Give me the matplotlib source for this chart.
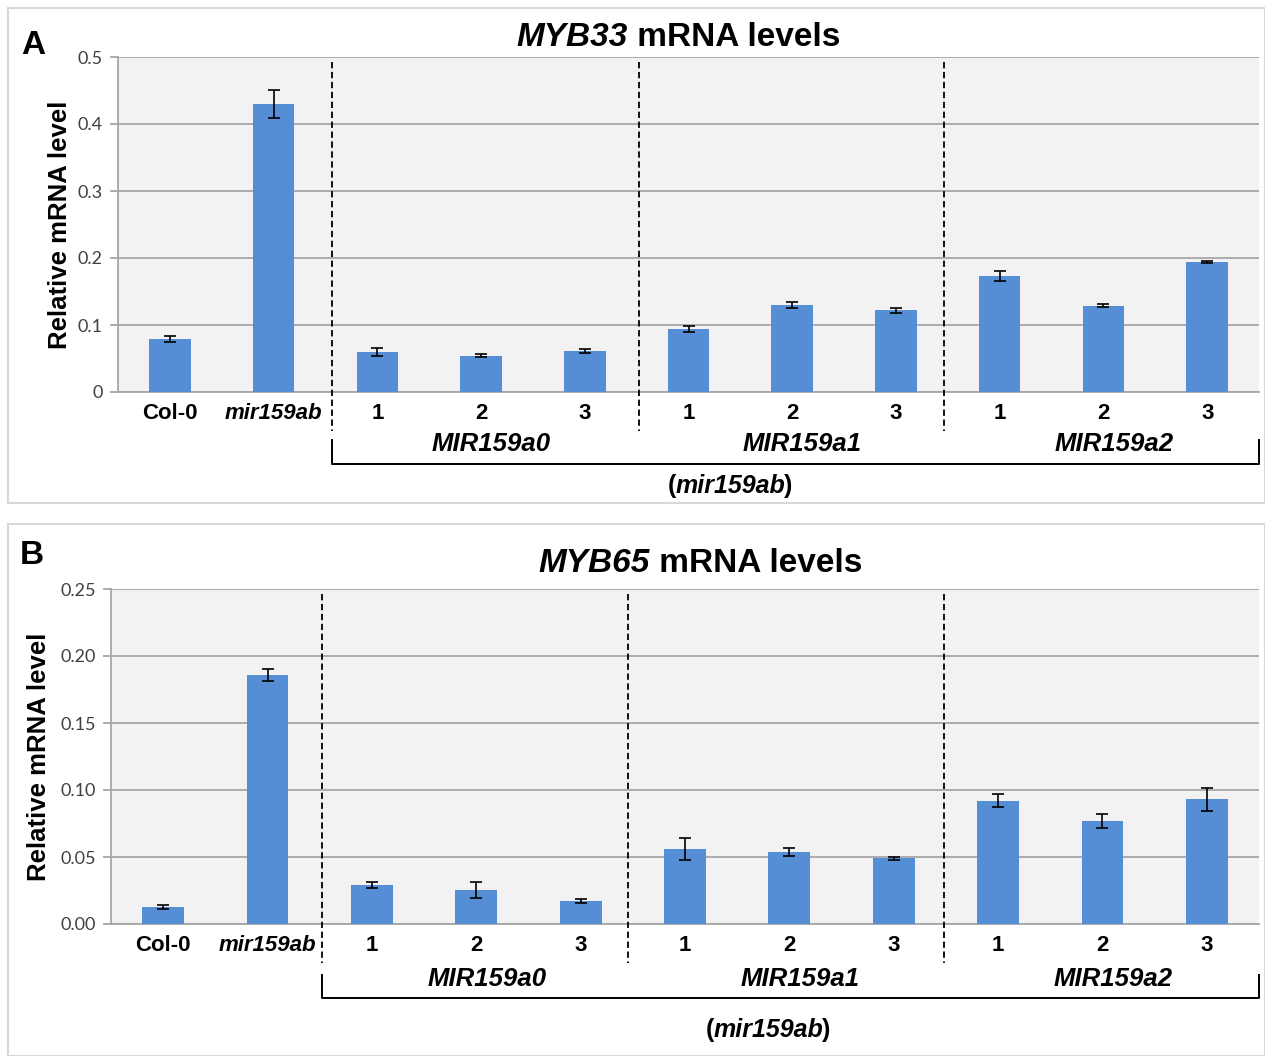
import matplotlib
matplotlib.use('Agg')
import matplotlib.pyplot as plt
from matplotlib.patches import Rectangle
from matplotlib.transforms import blended_transform_factory

W, H = 1265, 1056
SANS = ['Liberation Sans', 'DejaVu Sans']
NUM = ['Lato', 'DejaVu Sans']
BLUE = '#558ED5'
GRID = '#A6A6A6'

categories = ['Col-0', 'mir159ab', '1', '2', '3', '1', '2', '3', '1', '2', '3']
groups = ['MIR159a0', 'MIR159a1', 'MIR159a2']

myb33 = [0.079, 0.430, 0.059, 0.054, 0.061, 0.094, 0.130, 0.122, 0.173, 0.129, 0.194]
myb33_err = [0.005, 0.021, 0.006, 0.002, 0.003, 0.004, 0.005, 0.004, 0.007, 0.002, 0.002]
myb33_ticks = [0, 0.1, 0.2, 0.3, 0.4, 0.5]

myb65 = [0.0127, 0.186, 0.029, 0.0255, 0.017, 0.056, 0.054, 0.049, 0.092, 0.077, 0.093]
myb65_err = [0.0015, 0.0045, 0.002, 0.006, 0.0015, 0.0085, 0.003, 0.0012, 0.005, 0.005, 0.0085]
myb65_ticks = [0, 0.05, 0.10, 0.15, 0.20, 0.25]


def fx(x):
    return x / W


def fy(y):
    return 1 - y / H


def mixed_text(fig, x, y, parts, size, gap=0):
    # parts: (text, style); laid out left to right, centred on x (pixels)
    renderer = fig.canvas.get_renderer()
    texts = []
    for s, style in parts:
        t = fig.text(0, fy(y), s, fontsize=size, fontweight='bold',
                     fontstyle=style, family=SANS, va='center', ha='left')
        texts.append(t)
    widths = [t.get_window_extent(renderer).width for t in texts]
    total = sum(widths) + gap * (len(texts) - 1)
    cur = x - total / 2
    for t, w in zip(texts, widths):
        t.set_x(fx(cur))
        cur += w + gap


def panel(fig, box, frame, vals, errs, ticks, fmt, letter, letter_xy,
          gene, title_xy, ylab_x, dividers, label_y, bracket, par_xy):
    left, top, right, bottom = box
    ax = fig.add_axes([fx(left), fy(bottom), fx(right - left), (bottom - top) / H])
    ax.set_facecolor('#F2F2F2')
    x = list(range(len(vals)))
    ax.bar(x, vals, width=0.4, color=BLUE, zorder=3)
    ax.errorbar(x, vals, yerr=errs, fmt='none', ecolor='black',
                elinewidth=1.2, capsize=4.5, capthick=1.2, zorder=4)
    ax.set_xlim(-0.5, len(vals) - 0.5)
    ax.set_ylim(ticks[0], ticks[-1])
    ax.set_yticks(ticks)
    ax.set_yticklabels([fmt.format(t) for t in ticks], family=NUM,
                       fontsize=13, color='#404040')
    ax.yaxis.grid(True, color=GRID, linewidth=1.3, zorder=0)
    ax.tick_params(axis='y', length=6, color=GRID, width=1.3, pad=5)
    ax.tick_params(axis='x', length=0, pad=8)
    for s in ['top', 'right']:
        ax.spines[s].set_visible(False)
    for s in ['left', 'bottom']:
        ax.spines[s].set_color(GRID)
        ax.spines[s].set_linewidth(1.3)
    ax.set_xticks(x)
    ax.set_xticklabels(categories, family=SANS, fontsize=16, fontweight='bold')
    for lab in ax.get_xticklabels():
        if lab.get_text() == 'mir159ab':
            lab.set_fontstyle('italic')
    ax.set_ylabel('Relative mRNA level', family=SANS, fontsize=18.5,
                  fontweight='bold')
    ax.yaxis.set_label_coords(ylab_x, 0.5)

    tr = blended_transform_factory(ax.transData, ax.transAxes)
    for d in dividers:
        ax.plot([d, d], [0.985, -0.115], transform=tr, color='black',
                linestyle=(0, (3.5, 2)), linewidth=1.3, clip_on=False, zorder=5)

    centers = [3, 6, 9]
    for c, g in zip(centers, groups):
        ax.text(c + 0.1, label_y, g, transform=tr, ha='center', va='center',
                family=SANS, fontsize=18.5, fontweight='bold', fontstyle='italic')

    b_low, b_high = bracket
    xr = len(vals) - 0.5
    ax.plot([dividers[0], dividers[0], xr, xr], [b_high, b_low, b_low, b_high],
            transform=tr, color='black', linewidth=1.4, clip_on=False)

    fig.text(fx(letter_xy[0]), fy(letter_xy[1]), letter, family=SANS,
             fontsize=24, fontweight='bold', ha='center', va='center')
    mixed_text(fig, title_xy[0], title_xy[1],
               [(gene, 'italic'), (' mRNA levels', 'normal')], 24)
    mixed_text(fig, par_xy[0], par_xy[1],
               [('(', 'normal'), ('mir159ab', 'italic'), (')', 'normal')], 18, gap=-1)

    fl, ft, fr, fb = frame
    fig.patches.append(Rectangle((fx(fl), fy(fb)), fx(fr - fl), (fb - ft) / H,
                                 transform=fig.transFigure, fill=False,
                                 edgecolor='#D9D9D9', linewidth=1.5))
    return ax


fig = plt.figure(figsize=(W / 100, H / 100), dpi=100)
fig.patch.set_facecolor('white')

panel(fig, (118, 57, 1259, 392), (8, 8, 1265, 503), myb33, myb33_err,
      myb33_ticks, '{:g}', 'A', (33, 45), 'MYB33', (678, 38), -0.040,
      [1.566, 4.52, 7.46], -0.155, (-0.215, -0.143), (730, 486))

panel(fig, (111, 589, 1259, 924), (8, 524, 1265, 1056), myb65, myb65_err,
      myb65_ticks, '{:.2f}', 'B', (32, 555), 'MYB65', (700, 564), -0.052,
      [1.52, 4.45, 7.48], -0.164, (-0.221, -0.152), (768, 1030))

fig.savefig('out.png', dpi=100)
